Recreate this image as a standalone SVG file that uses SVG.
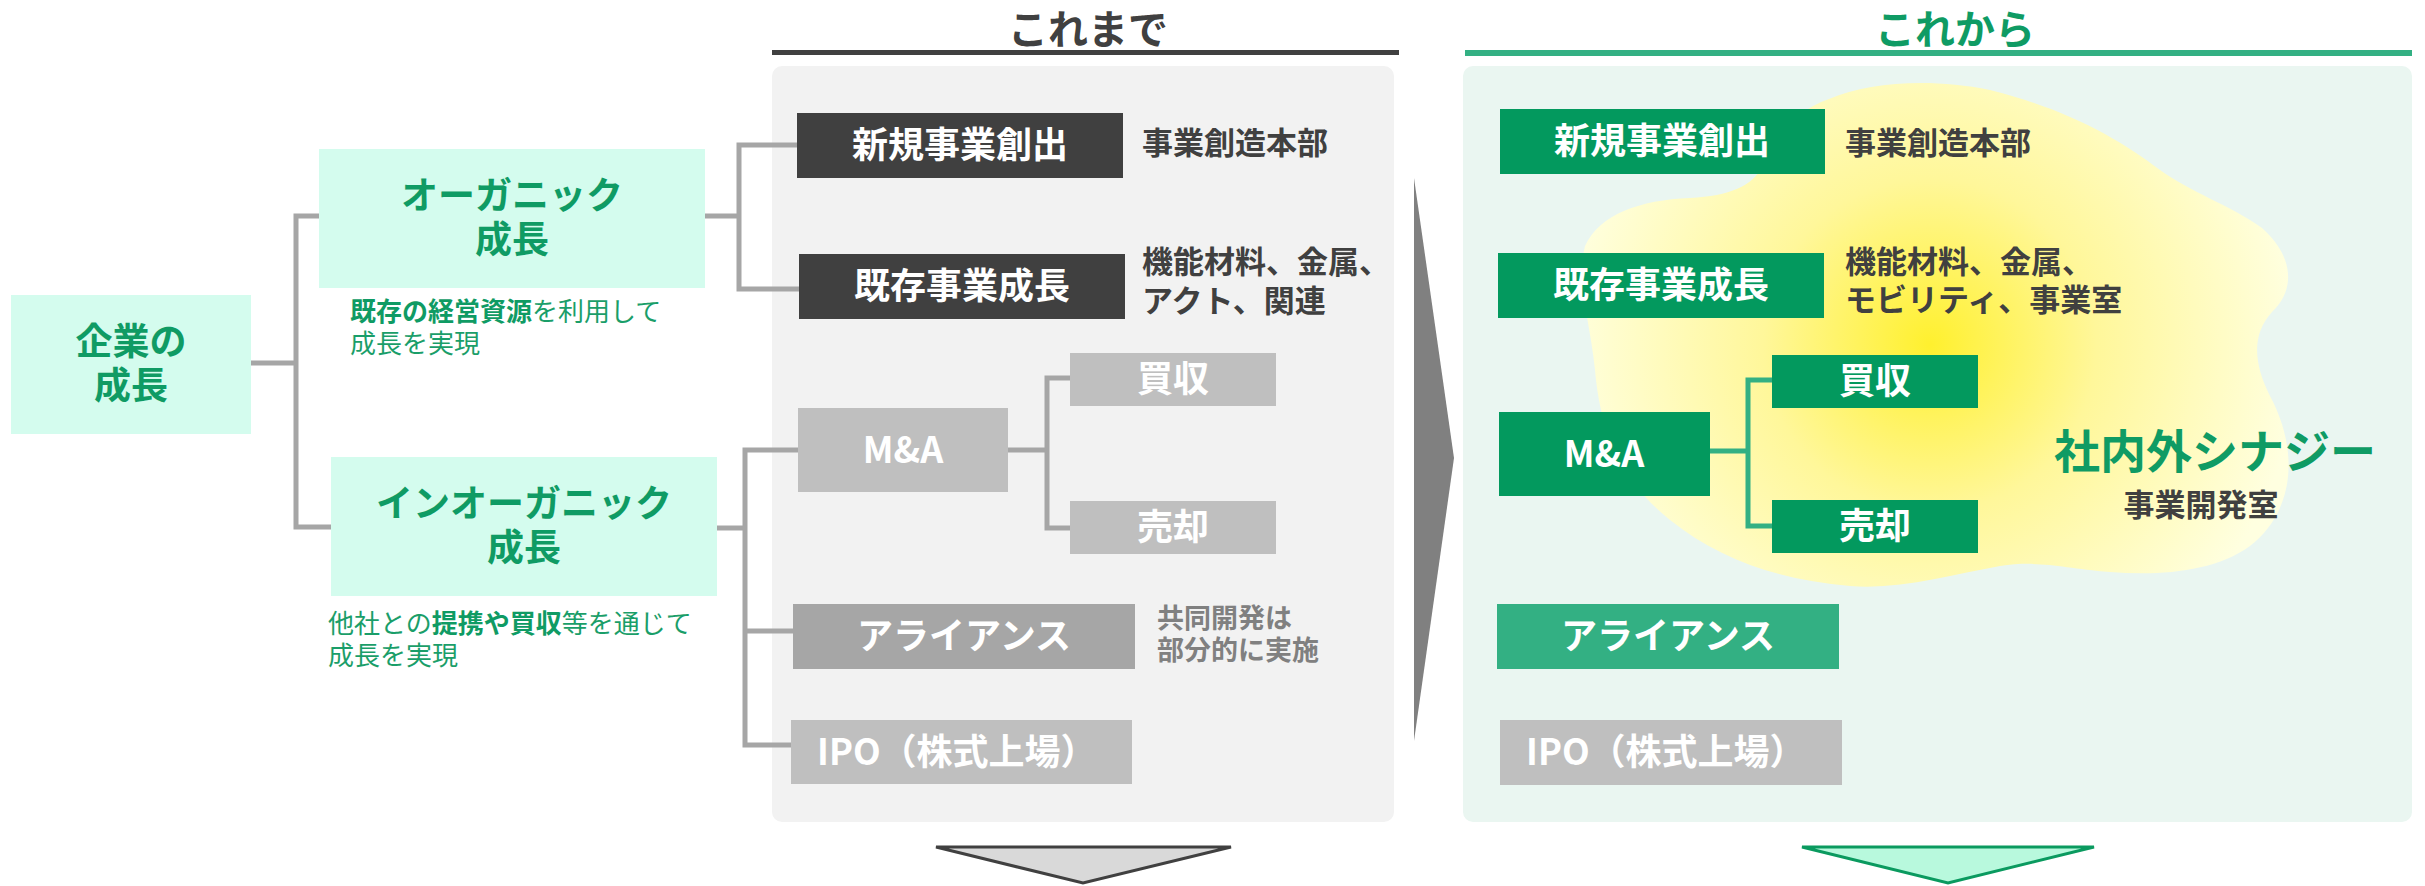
<svg xmlns="http://www.w3.org/2000/svg" width="2425" height="886" viewBox="0 0 2425 886">
<style>
text{font-family:"Noto Sans CJK JP","Noto Sans",sans-serif;font-weight:700}
.mint{fill:#d4fcee}
.gtxt{fill:#0f9b64;font-size:37px;text-anchor:middle}
.desc{fill:#1a9e69;font-size:26px;font-weight:400}
.desc .b{font-weight:700;fill:#0f9b64}
.wtxt{fill:#ffffff;font-size:36px;text-anchor:middle}
.wl{fill:#ffffff;font-size:36px}
.note{fill:#404040;font-size:31px}
.dark{fill:#404040}
.lgray{fill:#bfbfbf}
.mgray{fill:#a6a6a6}
.green{fill:#03995e}
.mgreen{fill:#33b083}
.gcon{fill:none;stroke:#a6a6a6;stroke-width:5}
.grcon{fill:none;stroke:#33b083;stroke-width:5}
</style>
<defs>
<radialGradient id="glow" gradientUnits="userSpaceOnUse" cx="1930" cy="345" r="370">
<stop offset="0" stop-color="#fff02e"/>
<stop offset="0.45" stop-color="#fff79a"/>
<stop offset="1" stop-color="#ffffe0"/>
</radialGradient>
</defs>
<rect width="2425" height="886" fill="#ffffff"/>

<g id="header-before">
<text x="1088" y="44" font-size="40" fill="#404040" text-anchor="middle">これまで</text>
<rect x="772" y="50" width="627" height="5" fill="#404040"/>
<rect x="772" y="66" width="622" height="756" rx="10" fill="#f2f2f2"/>
</g>
<g id="header-after">
<text x="1955" y="44" font-size="40" fill="#0f9b64" text-anchor="middle">これから</text>
<rect x="1465" y="50" width="947" height="6" fill="#33b083"/>
<rect x="1463" y="66" width="949" height="756" rx="10" fill="#eaf6f1"/>
<path id="synergy-cloud" fill="url(#glow)" d="M1829,99 C1870,82 1930,78 1990,90 C2070,110 2120,140 2160,170 C2190,192 2230,205 2262,228 C2296,258 2294,292 2272,312 C2250,336 2255,366 2270,396 C2300,452 2294,512 2250,546 C2214,572 2160,576 2110,572 C2062,568 2040,560 2000,566 C1950,575 1900,590 1850,586 C1780,580 1720,560 1670,520 C1620,480 1600,430 1595,370 C1590,320 1576,282 1585,246 C1600,214 1640,200 1690,198 C1730,196 1752,186 1763,166 C1778,130 1798,110 1829,99 Z"/>
</g>

<g id="connectors">
<path class="gcon" d="M251,363 H296"/>
<path class="gcon" d="M319,216 H296 V527 H331"/>
<path class="gcon" d="M705,216 H739"/>
<path class="gcon" d="M799,145 H739 V289 H801"/>
<path class="gcon" d="M717,528 H745"/>
<path class="gcon" d="M800,450 H745 V745 H793"/>
<path class="gcon" d="M745,631 H795"/>
<path class="gcon" d="M1008,450 H1047"/>
<path class="gcon" d="M1072,378 H1047 V528 H1072"/>
<path class="grcon" d="M1710,451 H1748"/>
<path class="grcon" d="M1774,380 H1748 V526 H1774"/>
<polygon id="transition-arrow" points="1414,178 1454,458 1414,741" fill="#808080"/>
<polygon id="down-arrow-before" points="936,847 1231,847 1083,883" fill="#d9d9d9" stroke="#404040" stroke-width="3"/>
<polygon id="down-arrow-after" points="1802,847 2094,847 1948,883" fill="#b8f9dd" stroke="#0a9a5f" stroke-width="3"/>
</g>

<g id="node-corporate-growth">
<rect class="mint" x="11" y="295" width="240" height="139"/>
<text class="gtxt" x="131" y="355">企業の<tspan x="131" dy="44">成長</tspan></text>
</g>
<g id="node-organic">
<rect class="mint" x="319" y="149" width="386" height="139"/>
<text class="gtxt" x="512" y="209">オーガニック<tspan x="512" dy="44">成長</tspan></text>
<text class="desc" x="350" y="321"><tspan class="b">既存の経営資源</tspan>を利用して<tspan x="350" dy="32">成長を実現</tspan></text>
</g>
<g id="node-inorganic">
<rect class="mint" x="331" y="457" width="386" height="139"/>
<text class="gtxt" x="524" y="517">インオーガニック<tspan x="524" dy="44">成長</tspan></text>
<text class="desc" x="328" y="633">他社との<tspan class="b">提携や買収</tspan>等を通じて<tspan x="328" dy="32">成長を実現</tspan></text>
</g>

<g id="before-new-business">
<rect class="dark" x="797" y="113" width="326" height="65"/>
<text class="wtxt" x="960" y="158">新規事業創出</text>
<text class="note" x="1142" y="154">事業創造本部</text>
</g>
<g id="before-existing">
<rect class="dark" x="799" y="254" width="326" height="65"/>
<text class="wtxt" x="962" y="299">既存事業成長</text>
<text class="note" x="1142" y="273">機能材料、金属、<tspan x="1142" dy="39">アクト、関連</tspan></text>
</g>
<g id="before-ma">
<rect class="lgray" x="798" y="408" width="210" height="84"/>
<text class="wtxt" x="903" y="463">M&amp;A</text>
</g>
<g id="before-acquisition">
<rect class="lgray" x="1070" y="353" width="206" height="53"/>
<text class="wtxt" x="1173" y="392">買収</text>
</g>
<g id="before-divestiture">
<rect class="lgray" x="1070" y="501" width="206" height="53"/>
<text class="wtxt" x="1173" y="540">売却</text>
</g>
<g id="before-alliance">
<rect class="mgray" x="793" y="604" width="342" height="65"/>
<text class="wtxt" x="964" y="649">アライアンス</text>
<text x="1157" y="628" font-size="27" fill="#808080">共同開発は<tspan x="1157" dy="32">部分的に実施</tspan></text>
</g>
<g id="before-ipo">
<rect class="lgray" x="791" y="720" width="341" height="64"/>
<text class="wl" x="817" y="765">IPO（株式上場）</text>
</g>

<g id="after-new-business">
<rect class="green" x="1500" y="109" width="325" height="65"/>
<text class="wtxt" x="1662" y="154">新規事業創出</text>
<text class="note" x="1845" y="154">事業創造本部</text>
</g>
<g id="after-existing">
<rect class="green" x="1498" y="253" width="326" height="65"/>
<text class="wtxt" x="1661" y="298">既存事業成長</text>
<text class="note" x="1845" y="273">機能材料、金属、<tspan x="1845" dy="38">モビリティ、事業室</tspan></text>
</g>
<g id="after-ma">
<rect class="green" x="1499" y="412" width="211" height="84"/>
<text class="wtxt" x="1604" y="467">M&amp;A</text>
</g>
<g id="after-acquisition">
<rect class="green" x="1772" y="355" width="206" height="53"/>
<text class="wtxt" x="1875" y="394">買収</text>
</g>
<g id="after-divestiture">
<rect class="green" x="1772" y="500" width="206" height="53"/>
<text class="wtxt" x="1875" y="539">売却</text>
</g>
<g id="after-synergy">
<text x="2215" y="468" font-size="46" fill="#0f9b64" text-anchor="middle">社内外シナジー</text>
<text x="2201" y="516" font-size="31" fill="#404040" text-anchor="middle">事業開発室</text>
</g>
<g id="after-alliance">
<rect class="mgreen" x="1497" y="604" width="342" height="65"/>
<text class="wtxt" x="1668" y="649">アライアンス</text>
</g>
<g id="after-ipo">
<rect class="lgray" x="1500" y="720" width="342" height="65"/>
<text class="wl" x="1526" y="765">IPO（株式上場）</text>
</g>
</svg>
